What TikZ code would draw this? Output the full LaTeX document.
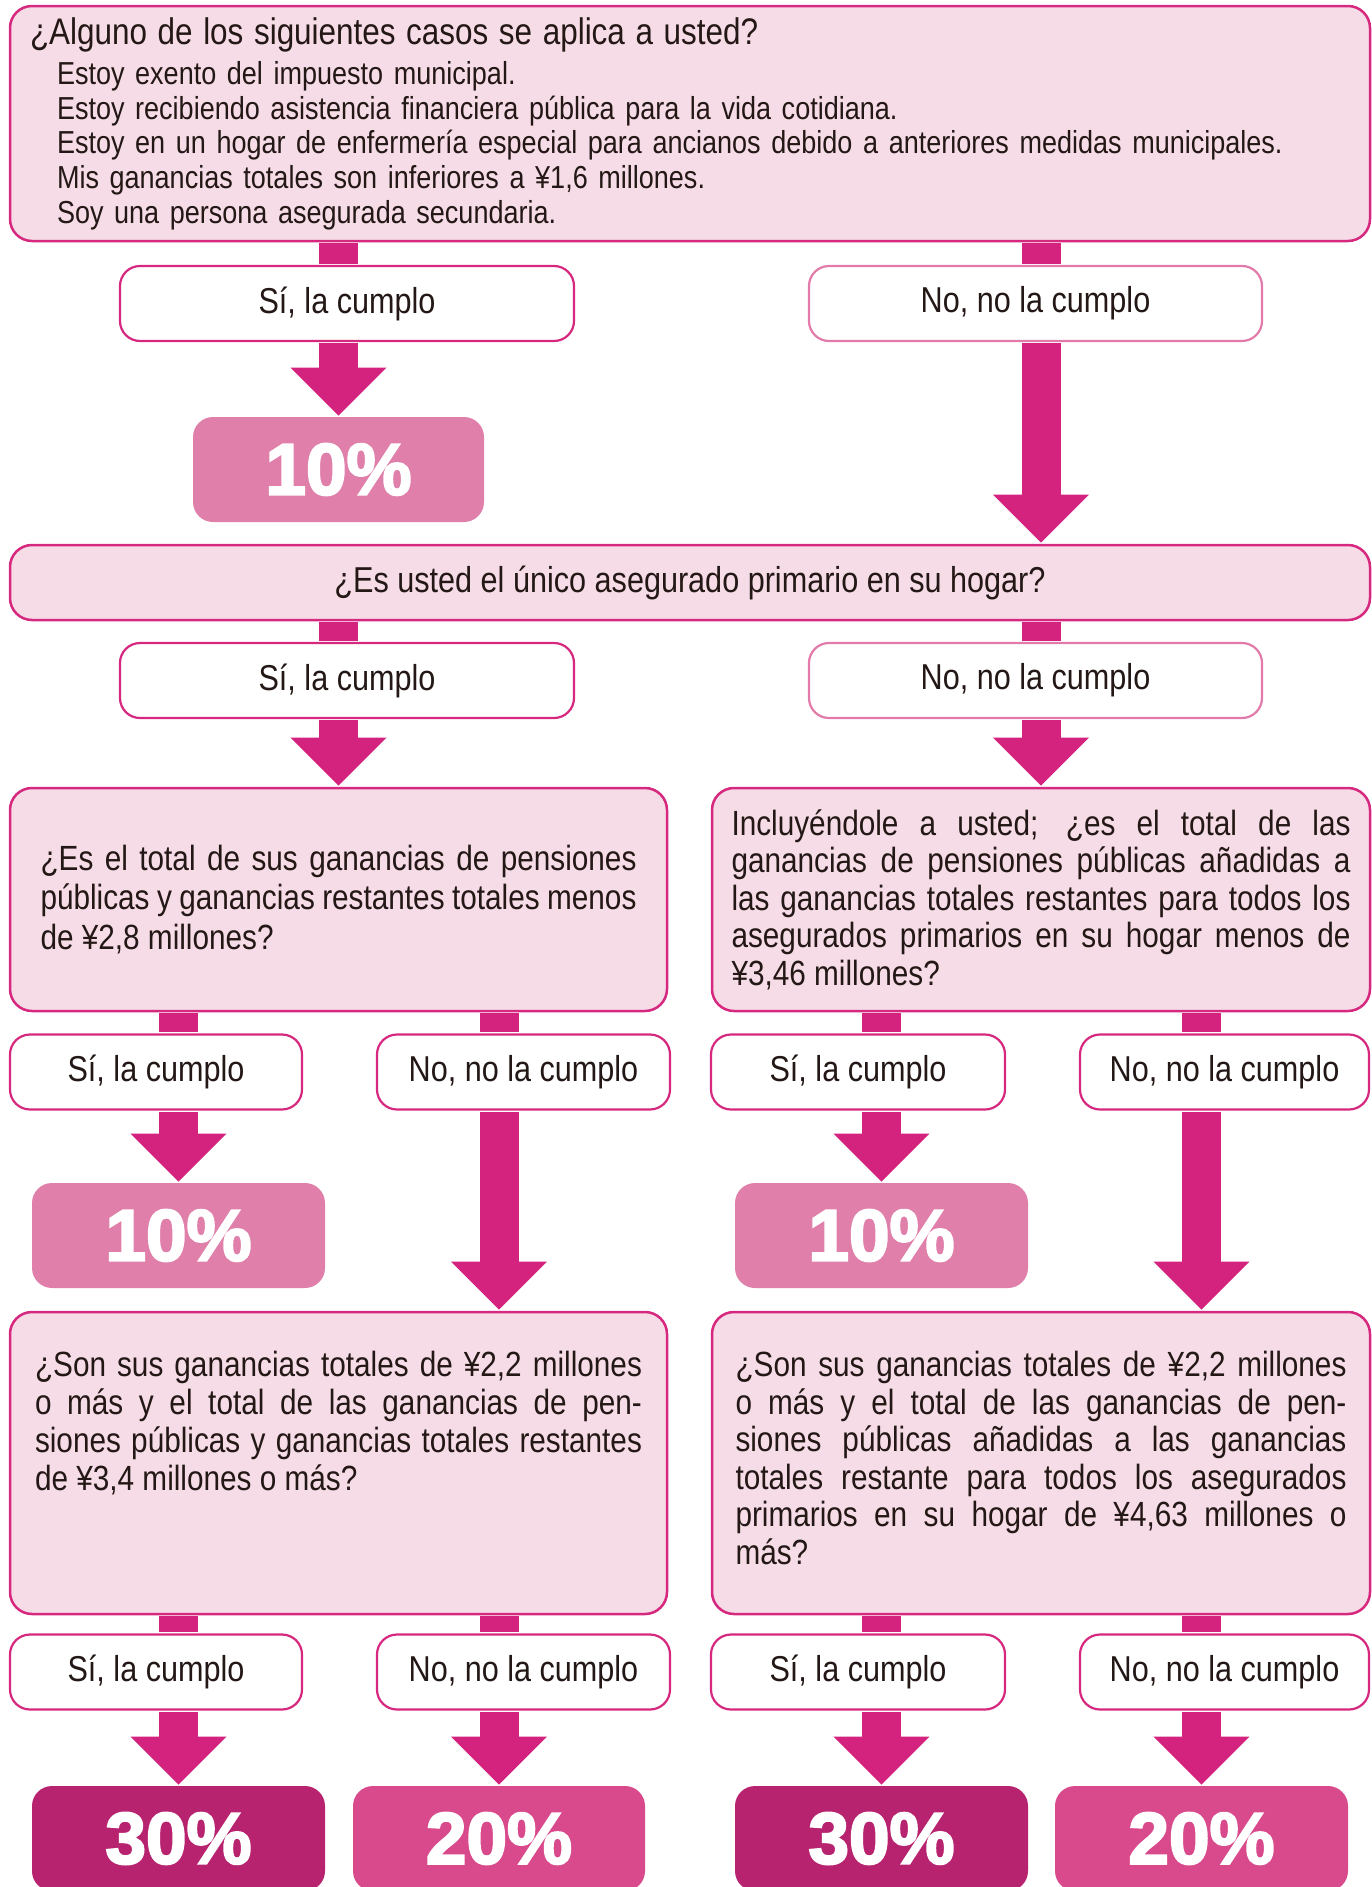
\documentclass[tikz,border=0pt]{standalone}
\usepackage{fontspec}
\setmainfont{Liberation Sans}[FakeStretch=0.85]
\newfontfamily\pctfont{Liberation Sans}[BoldFeatures={FakeBold=3}]
\usepackage{tikz}
\usetikzlibrary{arrows.meta}
\usepackage{xcolor}
\definecolor{pinkbg}{HTML}{F6DCE7}
\definecolor{pinkline}{HTML}{D6287F}
\definecolor{pinklight}{HTML}{E27AAA}
\definecolor{arrowpink}{HTML}{D4237E}
\definecolor{tenpct}{HTML}{E080AA}
\definecolor{thirtypct}{HTML}{B8236F}
\definecolor{twentypct}{HTML}{D94A8C}
\definecolor{inkblack}{HTML}{231815}

\tikzset{
  qbox/.style={rectangle,draw=pinkline,fill=pinkbg,line width=2.5pt,rounded corners=22pt,inner sep=0pt,text=inkblack},
  ansbox/.style={rectangle,draw=pinkline,fill=white,line width=2.2pt,rounded corners=20pt,minimum height=75pt,text=inkblack,font=\fontsize{36}{40}\selectfont},
  pctbox/.style={rectangle,rounded corners=20pt,minimum height=105pt,text=white,font=\pctfont\bfseries\fontsize{73}{73}\selectfont},
  stem/.style={draw=arrowpink,line width=39pt,shorten <=1.2pt,shorten >=1.2pt},
  flow/.style={stem,-{Triangle[length=48pt,width=96pt,line width=0pt]}}
}

\begin{document}
\begin{tikzpicture}[x=1pt,y=-1pt]
\useasboundingbox (0,0) rectangle (1372,1887);
\clip (0,0) rectangle (1372,1887);

\node (q0) [qbox,minimum width=1360pt,minimum height=235pt,text width=1320pt,align=left,font=\fontsize{31.8}{34.6}\selectfont] at (690,123.5)
  {{\fontsize{37}{40}\selectfont ¿Alguno de los siguientes casos se aplica a usted?}\\[6pt]
   \hspace*{27pt}Estoy exento del impuesto municipal.\\
   \hspace*{27pt}Estoy recibiendo asistencia financiera pública para la vida cotidiana.\\
   \hspace*{27pt}Estoy en un hogar de enfermería especial para ancianos debido a anteriores medidas municipales.\\
   \hspace*{27pt}Mis ganancias totales son inferiores a ¥1,6 millones.\\
   \hspace*{27pt}Soy una persona asegurada secundaria.};
\node (yes1) [ansbox,minimum width=454pt] at (347,303.5) {Sí, la cumplo};
\node (no1) [ansbox,draw=pinklight,minimum width=453pt] at (1035.5,303.5) {No, no la cumplo};
\node (r1) [pctbox,fill=tenpct,minimum width=291pt] at (338.5,469.5) {10\%};

\node (q1) [qbox,minimum width=1360pt,minimum height=75pt,font=\fontsize{36}{40}\selectfont] at (690,582.5)
  {¿Es usted el único asegurado primario en su hogar?};
\node (yes2) [ansbox,minimum width=454pt] at (347,680.5) {Sí, la cumplo};
\node (no2) [ansbox,draw=pinklight,minimum width=453pt] at (1035.5,680.5) {No, no la cumplo};

\node (qL) [qbox,minimum width=657pt,minimum height=223pt,text width=596pt,align=justify,font=\fontsize{35}{39.5}\selectfont] at (338.5,899.5)
  {¿Es el total de sus ganancias de pensiones\linebreak
   públicas y ganancias restantes totales menos\linebreak
   de ¥2,8 millones?};
\node (qR) [qbox,minimum width=658pt,minimum height=223pt,text width=619pt,align=justify,font=\fontsize{35}{37.5}\selectfont] at (1041,899.5)
  {Incluyéndole a usted; ¿es el total de las\linebreak
   ganancias de pensiones públicas añadidas a\linebreak
   las ganancias totales restantes para todos los\linebreak
   asegurados primarios en su hogar menos de\linebreak
   ¥3,46 millones?};

\node (yesL) [ansbox,minimum width=292pt] at (156,1072) {Sí, la cumplo};
\node (noL) [ansbox,minimum width=293pt] at (523.5,1072) {No, no la cumplo};
\node (yesR) [ansbox,minimum width=294pt] at (858,1072) {Sí, la cumplo};
\node (noR) [ansbox,minimum width=289pt] at (1224.5,1072) {No, no la cumplo};
\node (r2L) [pctbox,fill=tenpct,minimum width=293pt] at (178.5,1235.5) {10\%};
\node (r2R) [pctbox,fill=tenpct,minimum width=293pt] at (881.5,1235.5) {10\%};

\node (qL2) [qbox,minimum width=657pt,minimum height=302pt,text width=607pt,align=justify,font=\fontsize{35}{37.7}\selectfont] at (338.5,1463)
  {¿Son sus ganancias totales de ¥2,2 millones\linebreak
   o más y el total de las ganancias de pen-\linebreak
   siones públicas y ganancias totales restantes\linebreak
   de ¥3,4 millones o más?\par\vspace*{80pt}};
\node (qR2) [qbox,minimum width=658pt,minimum height=302pt,text width=611pt,align=justify,font=\fontsize{35}{37.5}\selectfont] at (1041,1463)
  {¿Son sus ganancias totales de ¥2,2 millones\linebreak
   o más y el total de las ganancias de pen-\linebreak
   siones públicas añadidas a las ganancias\linebreak
   totales restante para todos los asegurados\linebreak
   primarios en su hogar de ¥4,63 millones o\linebreak
   más?\par\vspace*{10pt}};

\node (yesL2) [ansbox,minimum width=292pt] at (156,1672) {Sí, la cumplo};
\node (noL2) [ansbox,minimum width=293pt] at (523.5,1672) {No, no la cumplo};
\node (yesR2) [ansbox,minimum width=294pt] at (858,1672) {Sí, la cumplo};
\node (noR2) [ansbox,minimum width=289pt] at (1224.5,1672) {No, no la cumplo};
\node (r3La) [pctbox,fill=thirtypct,minimum width=293pt] at (178.5,1838.5) {30\%};
\node (r3Lb) [pctbox,fill=twentypct,minimum width=292pt] at (499,1838.5) {20\%};
\node (r3Ra) [pctbox,fill=thirtypct,minimum width=293pt] at (881.5,1838.5) {30\%};
\node (r3Rb) [pctbox,fill=twentypct,minimum width=293pt] at (1201.5,1838.5) {20\%};

\draw[stem] (q0.south -| r1.north) -- (yes1.north -| r1.north);
\draw[flow] (yes1.south -| r1.north) -- (r1.north);
\draw[stem] (q0.south -| qR.north) -- (no1.north -| qR.north);
\draw[flow] (no1.south -| qR.north) -- (q1.north -| qR.north);

\draw[stem] (q1.south -| qL.north) -- (yes2.north -| qL.north);
\draw[flow] (yes2.south -| qL.north) -- (qL.north);
\draw[stem] (q1.south -| qR.north) -- (no2.north -| qR.north);
\draw[flow] (no2.south -| qR.north) -- (qR.north);

\draw[stem] (qL.south -| r2L.north) -- (yesL.north -| r2L.north);
\draw[flow] (yesL.south -| r2L.north) -- (r2L.north);
\draw[stem] (qL.south -| r3Lb.north) -- (noL.north -| r3Lb.north);
\draw[flow] (noL.south -| r3Lb.north) -- (qL2.north -| r3Lb.north);
\draw[stem] (qR.south -| r2R.north) -- (yesR.north -| r2R.north);
\draw[flow] (yesR.south -| r2R.north) -- (r2R.north);
\draw[stem] (qR.south -| r3Rb.north) -- (noR.north -| r3Rb.north);
\draw[flow] (noR.south -| r3Rb.north) -- (qR2.north -| r3Rb.north);

\draw[stem] (qL2.south -| r3La.north) -- (yesL2.north -| r3La.north);
\draw[flow] (yesL2.south -| r3La.north) -- (r3La.north);
\draw[stem] (qL2.south -| r3Lb.north) -- (noL2.north -| r3Lb.north);
\draw[flow] (noL2.south -| r3Lb.north) -- (r3Lb.north);
\draw[stem] (qR2.south -| r3Ra.north) -- (yesR2.north -| r3Ra.north);
\draw[flow] (yesR2.south -| r3Ra.north) -- (r3Ra.north);
\draw[stem] (qR2.south -| r3Rb.north) -- (noR2.north -| r3Rb.north);
\draw[flow] (noR2.south -| r3Rb.north) -- (r3Rb.north);
\end{tikzpicture}
\end{document}
